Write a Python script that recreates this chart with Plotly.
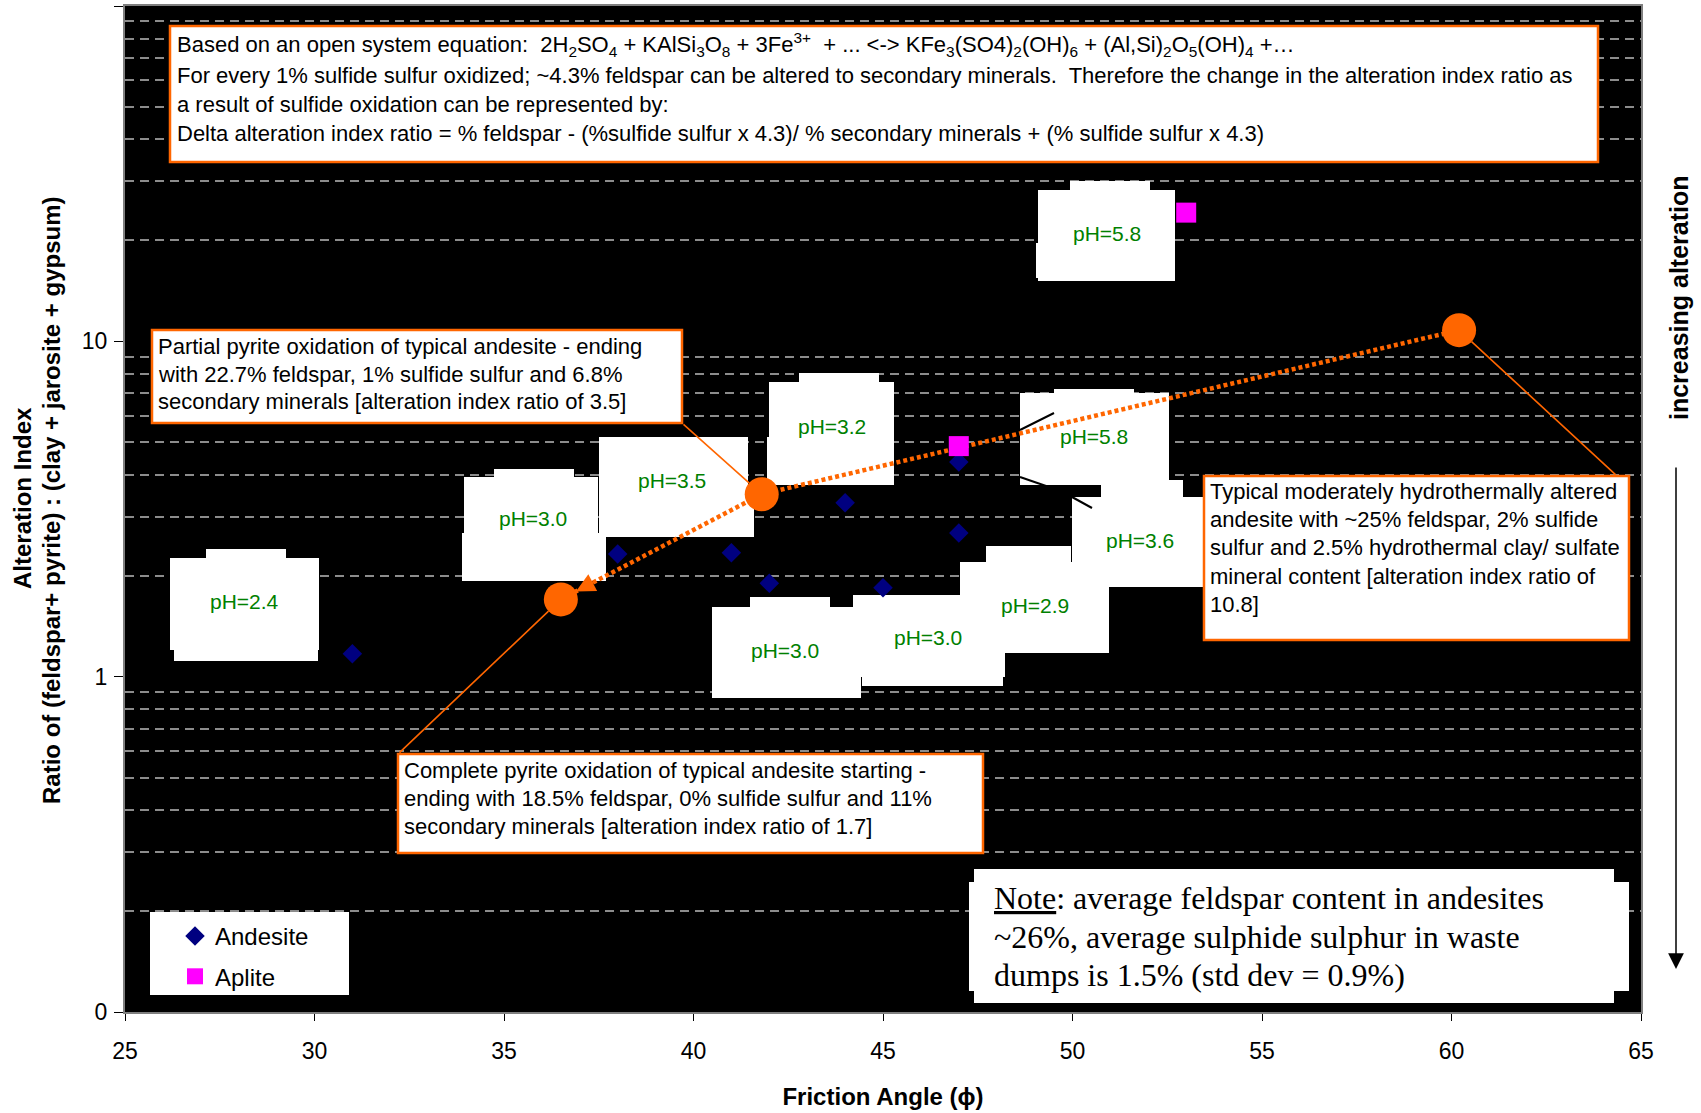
import math
import plotly.graph_objects as go

# ---------------- data ----------------
andesite_friction = [31, 38, 41, 42, 44, 45, 47, 47]
andesite_ratio = [1.17, 2.32, 2.34, 1.90, 3.30, 1.84, 4.37, 2.68]

aplite_friction = [47, 53]
aplite_ratio = [4.87, 24.2]

# typical altered andesite -> partial -> complete pyrite oxidation
scenario_friction = [60.2, 41.8, 36.5]
scenario_ratio = [10.8, 3.5, 1.7]

ph_labels = ["pH=2.4", "pH=3.0", "pH=3.5", "pH=3.2", "pH=5.8",
             "pH=5.8", "pH=3.6", "pH=3.0", "pH=2.9", "pH=3.0"]

x_ticks = [25, 30, 35, 40, 45, 50, 55, 60, 65]
y_tickvals = [0.1, 1, 10, 100]
y_ticktext = ["0", "1", "10", "100"]
y_minor = [0.2, 0.3, 0.4, 0.5, 0.6, 0.7, 0.8, 0.9,
           2, 3, 4, 5, 6, 7, 8, 9,
           20, 30, 40, 50, 60, 70, 80, 90]

# ---------------- page geometry ----------------
FIG_W, FIG_H = 1701, 1113
M_L, M_R, M_T, M_B = 125, 60, 6, 101
PLOT_W = FIG_W - M_L - M_R
PLOT_H = FIG_H - M_T - M_B
X_RANGE = [25, 65]
Y_LOG_RANGE = [-1, 2]

ORANGE = "#FF6600"
GREEN = "#008000"
SANS = "Liberation Sans, Arial, sans-serif"
SERIF = "Liberation Serif, Times New Roman, serif"


def fx(px):
    return (px - M_L) / PLOT_W


def fy(py):
    return 1 - (py - M_T) / PLOT_H


def data_x(px):
    return X_RANGE[0] + fx(px) * (X_RANGE[1] - X_RANGE[0])


def log_y(py):
    return Y_LOG_RANGE[0] + fy(py) * (Y_LOG_RANGE[1] - Y_LOG_RANGE[0])


fig = go.Figure()

# dotted path between the three oxidation states
fig.add_trace(go.Scatter(
    x=scenario_friction, y=scenario_ratio, mode="lines",
    line=dict(color=ORANGE, width=4.5, dash="4px,3px"),
    showlegend=False, hoverinfo="skip"))
fig.add_trace(go.Scatter(
    x=scenario_friction, y=scenario_ratio, mode="markers",
    marker=dict(symbol="circle", size=34, color=ORANGE),
    showlegend=False, hoverinfo="skip"))

fig.add_trace(go.Scatter(
    x=andesite_friction, y=andesite_ratio, mode="markers", name="Andesite",
    legendgroup="a", marker=dict(symbol="diamond", size=15, color="#000080")))
fig.add_trace(go.Scatter(
    x=aplite_friction, y=aplite_ratio, mode="markers", name="Aplite",
    legendgroup="b", marker=dict(symbol="square", size=20, color="#FF00FF")))

shapes = []
annotations = []


def paper_rect(x0, y0, x1, y1, fill="white", line=None):
    shapes.append(dict(type="rect", xref="paper", yref="paper",
                       x0=fx(x0), x1=fx(x1), y0=fy(y1), y1=fy(y0),
                       fillcolor=fill, layer="above",
                       line=line if line else dict(width=0)))


def data_rect(x0, y0, x1, y1):
    # white block sitting between the grid and the plotted series
    shapes.append(dict(type="rect", xref="x", yref="y",
                       x0=data_x(x0), x1=data_x(x1),
                       y0=10 ** log_y(y1), y1=10 ** log_y(y0),
                       fillcolor="white", layer="between",
                       line=dict(width=0)))


def text_line(txt, left, center, size=22, family=SANS, color="black"):
    annotations.append(dict(
        text=txt, xref="paper", yref="paper", x=fx(left), y=fy(center),
        xanchor="left", yanchor="middle", showarrow=False,
        font=dict(family=family, size=size, color=color)))


# ---- pH data-label boxes (irregular white blocks) ----
ph_boxes = [
    ([(170, 558, 319, 650), (206, 549, 286, 558), (174, 648, 318, 661)], (244, 601)),
    ([(464, 477, 598, 533), (494, 469, 574, 477), (462, 533, 606, 581)], (533, 518)),
    ([(599, 437, 748, 497), (599, 497, 754, 537)], (672, 480)),
    ([(769, 382, 894, 437), (799, 373, 879, 382), (767, 437, 894, 485)], (832, 426)),
    ([(1038, 190, 1175, 281), (1070, 181, 1150, 190), (1036, 243, 1040, 278)], (1107, 233)),
    ([(1020, 393, 1169, 485), (1054, 389, 1134, 393)], (1094, 436)),
    ([(1101, 480, 1183, 497), (1072, 497, 1203, 587)], (1140, 540)),
    ([(853, 595, 972, 607), (853, 607, 1005, 677), (862, 677, 1003, 686)], (928, 637)),
    ([(960, 562, 1109, 653), (986, 546, 1071, 562)], (1035, 605)),
    ([(712, 607, 861, 698), (750, 597, 830, 607)], (785, 650)),
]
for label, (rects, (cx, cy)) in zip(ph_labels, ph_boxes):
    for r in rects:
        data_rect(*r)
    annotations.append(dict(
        text=label, xref="paper", yref="paper", x=fx(cx), y=fy(cy),
        xanchor="center", yanchor="middle", showarrow=False,
        font=dict(family=SANS, size=21, color=GREEN)))

# label leader lines
for (x0, y0, x1, y1) in [(1020, 430, 1054, 413), (1020, 477, 1049, 487),
                         (1072, 497, 1092, 508)]:
    shapes.append(dict(type="line", xref="x", yref="y",
                       x0=data_x(x0), y0=10 ** log_y(y0),
                       x1=data_x(x1), y1=10 ** log_y(y1),
                       layer="between", line=dict(color="black", width=2)))

# ---- explanatory text boxes ----
box_line = dict(color=ORANGE, width=2.5)

top_lines = [
    "Based on an open system equation:&nbsp; 2H<sub>2</sub>SO<sub>4</sub> + "
    "KAlSi<sub>3</sub>O<sub>8</sub> + 3Fe<sup>3+</sup>&nbsp; + ... &lt;-&gt; "
    "KFe<sub>3</sub>(SO4)<sub>2</sub>(OH)<sub>6</sub> + "
    "(Al,Si)<sub>2</sub>O<sub>5</sub>(OH)<sub>4</sub> +…",
    "For every 1% sulfide sulfur oxidized; ~4.3% feldspar can be altered to "
    "secondary minerals.&nbsp; Therefore the change in the alteration index ratio as",
    "a result of sulfide oxidation can be represented by:",
    "Delta alteration index ratio = % feldspar - (%sulfide sulfur x 4.3)/ "
    "% secondary minerals + (% sulfide sulfur x 4.3)",
]
paper_rect(170, 26, 1598, 162, line=box_line)
for t, c in zip(top_lines, [45, 75, 104, 133]):
    text_line(t, 175, c)

partial_lines = [
    "Partial pyrite oxidation of typical andesite - ending",
    "with 22.7% feldspar, 1% sulfide sulfur and 6.8%",
    f"secondary minerals [alteration index ratio of {scenario_ratio[1]}]",
]
paper_rect(152, 330, 682, 423, line=box_line)
for t, c in zip(partial_lines, [346, 374, 402]):
    text_line(t, 156, c)

complete_lines = [
    "Complete pyrite oxidation of typical andesite starting -",
    "ending with 18.5% feldspar, 0% sulfide sulfur and 11%",
    f"secondary minerals [alteration index ratio of {scenario_ratio[2]}]",
]
paper_rect(398, 754, 983, 853, line=box_line)
for t, c in zip(complete_lines, [770, 798, 826]):
    text_line(t, 402, c)

typical_lines = [
    "Typical moderately hydrothermally altered",
    "andesite with ~25% feldspar, 2% sulfide",
    "sulfur and 2.5% hydrothermal clay/ sulfate",
    "mineral content [alteration index ratio of",
    f"{scenario_ratio[0]}]",
]
paper_rect(1204, 476, 1629, 640, line=box_line)
for t, c in zip(typical_lines, [491, 519, 547, 576, 604]):
    text_line(t, 1208, c)

note_lines = [
    "<u>Note</u>: average feldspar content in andesites",
    "~26%, average sulphide sulphur in waste",
    "dumps is 1.5% (std dev = 0.9%)",
]
paper_rect(974, 869, 1614, 1003)
paper_rect(969, 882, 1629, 991)
for t, c in zip(note_lines, [898, 937, 975]):
    text_line(t, 992, c, size=32, family=SERIF)

# legend backing
paper_rect(150, 912, 349, 995)

# ---- callout pointers from the text boxes to the scenario points ----
pointer_tails = [(1617, 476), (682, 423), (398, 754)]
for (tx, ty), sx, sy in zip(pointer_tails, scenario_friction, scenario_ratio):
    annotations.append(dict(
        text="", x=sx, y=math.log10(sy), xref="x", yref="y",
        ax=data_x(tx), ay=log_y(ty), axref="x", ayref="y",
        showarrow=True, arrowhead=0, arrowwidth=1.6, arrowcolor=ORANGE,
        standoff=17))

# arrowhead at the end of the dotted path
px_per_x = PLOT_W / (X_RANGE[1] - X_RANGE[0])
px_per_dec = PLOT_H / (Y_LOG_RANGE[1] - Y_LOG_RANGE[0])
dxp = (scenario_friction[1] - scenario_friction[2]) * px_per_x
dyp = -(math.log10(scenario_ratio[1]) - math.log10(scenario_ratio[2])) * px_per_dec
norm = math.hypot(dxp, dyp)
annotations.append(dict(
    text="", x=scenario_friction[2], y=math.log10(scenario_ratio[2]),
    xref="x", yref="y", ax=dxp / norm * 38, ay=dyp / norm * 38,
    showarrow=True, arrowhead=2, arrowwidth=2, arrowsize=1.9,
    arrowcolor=ORANGE, standoff=17))

# right-hand "increasing alteration" indicator
annotations.append(dict(
    text="", xref="paper", yref="paper", x=fx(1676), y=fy(969),
    ax=0, ay=-(969 - 466), showarrow=True, arrowhead=2, arrowwidth=1.5,
    arrowsize=2.1, arrowcolor="black"))
annotations.append(dict(
    text="increasing alteration", xref="paper", yref="paper",
    x=fx(1679), y=fy(298), textangle=-90, showarrow=False,
    xanchor="center", yanchor="middle",
    font=dict(family=SANS, size=25, color="black", weight="bold")))

# y-axis title (two lines)
annotations.append(dict(
    text="Alteration Index", xref="paper", yref="paper",
    x=fx(22), y=fy(498), textangle=-90, showarrow=False,
    xanchor="center", yanchor="middle",
    font=dict(family=SANS, size=24, color="black", weight="bold")))
annotations.append(dict(
    text="Ratio of (feldspar+ pyrite) : (clay + jarosite + gypsum)",
    xref="paper", yref="paper", x=fx(52), y=fy(500), textangle=-90,
    showarrow=False, xanchor="center", yanchor="middle",
    font=dict(family=SANS, size=24, color="black", weight="bold")))

fig.update_layout(
    width=FIG_W, height=FIG_H,
    margin=dict(l=M_L, r=M_R, t=M_T, b=M_B, autoexpand=False),
    paper_bgcolor="white", plot_bgcolor="black",
    font=dict(family=SANS, color="black"),
    shapes=shapes, annotations=annotations,
    showlegend=True,
    legend=dict(x=fx(175), y=fy(914), xanchor="left", yanchor="top",
                bgcolor="rgba(0,0,0,0)", borderwidth=0,
                font=dict(family=SANS, size=24, color="black"),
                traceorder="grouped", tracegroupgap=6),
    xaxis=dict(range=X_RANGE, tickvals=x_ticks, ticks="outside", ticklen=7,
               tickcolor="black", tickwidth=1.2, showgrid=False, zeroline=False,
               showline=True, linecolor="#7f7f7f", linewidth=2, mirror=True,
               tickfont=dict(family=SANS, size=23, color="black"),
               ticklabelstandoff=10, automargin=False,
               title=dict(text="Friction Angle (ϕ)", standoff=26,
                          font=dict(family=SANS, size=24, color="black",
                                    weight="bold"))),
    yaxis=dict(type="log", range=Y_LOG_RANGE, tickvals=y_tickvals,
               ticktext=y_ticktext, ticks="outside", ticklen=9,
               tickcolor="black", tickwidth=1.2, showgrid=False, zeroline=False,
               showline=True, linecolor="#7f7f7f", linewidth=2, mirror=True,
               tickfont=dict(family=SANS, size=23, color="black"),
               ticklabelstandoff=2, automargin=False,
               minor=dict(tickvals=y_minor, ticks="", showgrid=True,
                          gridcolor="#8c8c8c", griddash="9px,6px",
                          gridwidth=1.5)),
)

fig.write_html("out.html")
